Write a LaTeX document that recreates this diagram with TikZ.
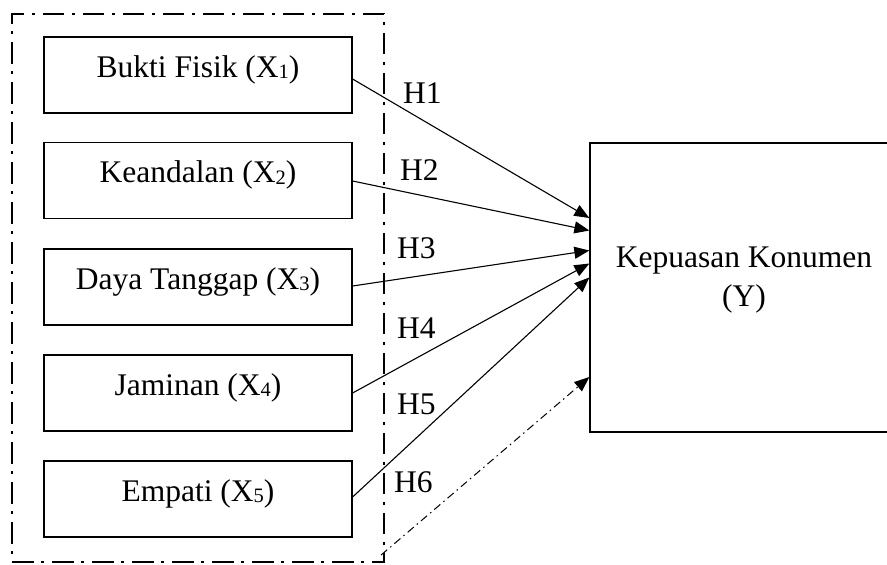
\documentclass[tikz,border=0pt]{standalone}
\usepackage{fontspec}
\setmainfont{Liberation Serif}
\usetikzlibrary{arrows.meta}
\newcommand{\subn}[1]{\raisebox{-1.5pt}{\fontsize{20.5}{20}\selectfont #1}}
\begin{document}
\begin{tikzpicture}[x=1pt,y=-1pt,
  every node/.style={font=\fontsize{31.5}{39}\selectfont},
  xbox/.style={draw,line width=1.2pt,minimum width=308pt,minimum height=76pt,inner sep=0pt,text height=21pt,text depth=17pt},
  ybox/.style={draw,line width=1.3pt,minimum width=308pt,minimum height=289pt,inner sep=0pt},
  grpbox/.style={draw,line width=2.1pt,dash pattern=on 21.5pt off 7.5pt on 3pt off 8pt,minimum width=372pt,minimum height=548pt,inner sep=0pt},
  hlab/.style={anchor=base west,inner sep=0pt},
  arr/.style={line width=1.1pt,-{Triangle[length=15pt,width=12pt]}},
  darr/.style={line width=1pt,dash pattern=on 8pt off 4pt on 1.5pt off 4pt,-{Triangle[length=15pt,width=12pt]}}
]
\useasboundingbox (0,0) rectangle (887,565);
\node[grpbox] (grp) at (198,288) {};
\node[xbox] (x1) at (198,75) {Bukti Fisik (X\subn{1})};
\node[xbox] (x2) at (198,180.5) {Keandalan (X\subn{2})};
\node[xbox] (x3) at (198,287) {Daya Tanggap (X\subn{3})};
\node[xbox] (x4) at (198,393) {Jaminan (X\subn{4})};
\node[xbox] (x5) at (198,499) {Empati (X\subn{5})};
\node[ybox] (y) at (744,287.5) {};
\node[align=center,anchor=north,inner sep=0pt] (ytxt) at (744,247) {Kepuasan Konumen\\(Y)};
\node[hlab] (h1) at (403,103) {H1};
\node[hlab] (h2) at (400,180) {H2};
\node[hlab] (h3) at (397,258) {H3};
\node[hlab] (h4) at (397,338) {H4};
\node[hlab] (h5) at (397,414) {H5};
\node[hlab] (h6) at (394,492) {H6};
\draw[arr] ([yshift=-4pt]x1.east) -- ([yshift=69.5pt]y.west);
\draw[arr] ([yshift=-0.5pt]x2.east) -- ([yshift=57pt]y.west);
\draw[arr] ([yshift=1pt]x3.east) -- ([yshift=37pt]y.west);
\draw[arr] (x4.east) -- ([yshift=24pt]y.west);
\draw[arr] ([yshift=2pt]x5.east) -- ([yshift=10pt]y.west);
\draw[darr] ([xshift=-4pt,yshift=8pt]grp.south east) -- ([yshift=-89.5pt]y.west);
\end{tikzpicture}
\end{document}
